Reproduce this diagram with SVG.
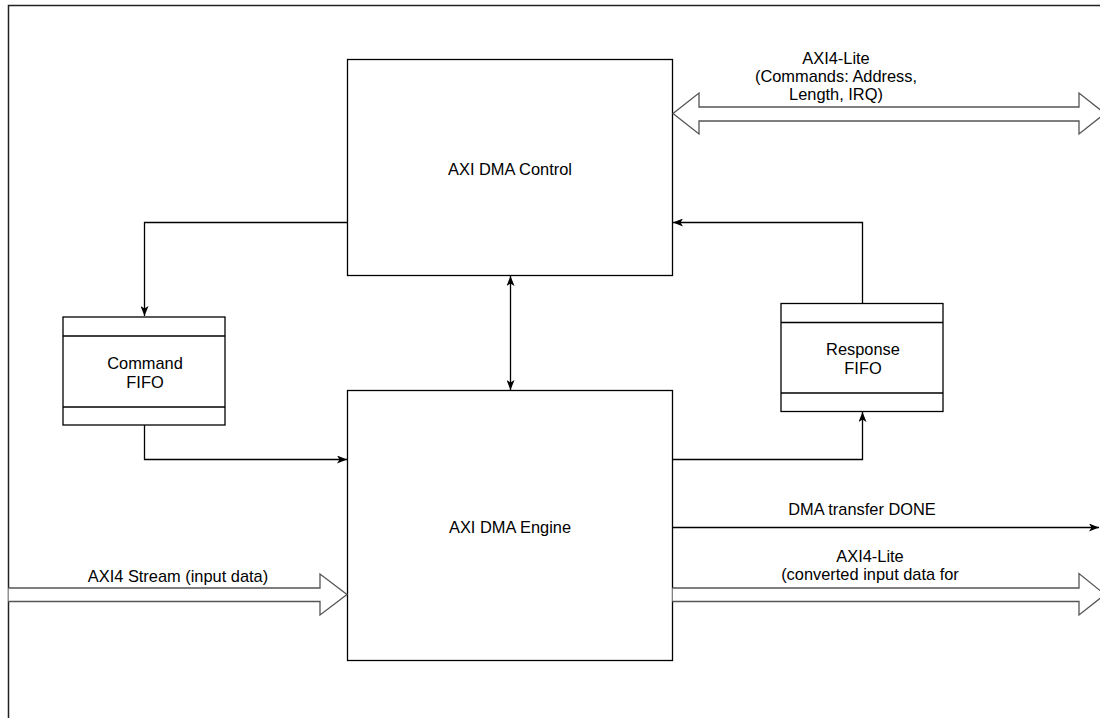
<svg xmlns="http://www.w3.org/2000/svg" width="1100" height="718" viewBox="0 0 1100 718">
<style>
.box{fill:#fff;stroke:#000;stroke-width:1.3}
.frame{fill:none;stroke:#222;stroke-width:1.5}
.ln{fill:none;stroke:#000;stroke-width:1.3}
.wide{fill:#fff;stroke:#555;stroke-width:1.3;stroke-linejoin:miter}
text{font-family:"Liberation Sans",Arial,sans-serif;font-size:16.4px;fill:#000;text-anchor:middle}
</style>
<defs>
<marker id="ah" viewBox="0 0 10 8" refX="10" refY="4" markerWidth="10" markerHeight="8" markerUnits="userSpaceOnUse" orient="auto-start-reverse">
<path d="M0,0 L10,4 L0,8 L2.5,4 Z" fill="#000"/>
</marker>
</defs>
<rect class="frame" x="8.5" y="5.5" width="1100" height="730"/>
<g id="control">
<rect class="box" x="347.5" y="59.5" width="325" height="216"/>
<text x="510" y="175">AXI DMA Control</text>
</g>
<g id="engine">
<rect class="box" x="347.5" y="390.5" width="325" height="270"/>
<text x="510" y="533">AXI DMA Engine</text>
</g>
<g id="cmdfifo">
<rect class="box" x="63" y="317" width="162" height="108"/>
<line class="ln" x1="63" y1="336" x2="225" y2="336"/>
<line class="ln" x1="63" y1="407" x2="225" y2="407"/>
<text x="145" y="369">Command</text>
<text x="145" y="388">FIFO</text>
</g>
<g id="respfifo">
<rect class="box" x="781" y="303.5" width="162" height="108"/>
<line class="ln" x1="781" y1="322.5" x2="943" y2="322.5"/>
<line class="ln" x1="781" y1="393" x2="943" y2="393"/>
<text x="863" y="355">Response</text>
<text x="863" y="374">FIFO</text>
</g>
<g id="connectors">
<path class="ln" d="M347.5,222.5 H144.5 V316" marker-end="url(#ah)"/>
<path class="ln" d="M144.5,425 V459.5 H347" marker-end="url(#ah)"/>
<path class="ln" d="M510.5,276 V390" marker-start="url(#ah)" marker-end="url(#ah)"/>
<path class="ln" d="M672.5,459.5 H862.5 V412" marker-end="url(#ah)"/>
<path class="ln" d="M862.5,303.5 V222.5 H673" marker-end="url(#ah)"/>
<path class="ln" d="M672.5,527.5 H1099" marker-end="url(#ah)"/>
<path class="wide" d="M673,113.5 L699,93 L699,107 L1079,107 L1079,93 L1105,113.5 L1079,134 L1079,121 L699,121 L699,134 Z"/>
<path class="wide" d="M672.5,588 L1079,588 L1079,573.5 L1105,594.5 L1079,615 L1079,601.5 L672.5,601.5"/>
<path class="wide" d="M8.5,588 L320,588 L320,574 L347,594.5 L320,615 L320,601.5 L8.5,601.5"/>
</g>
<g id="labels">
<text x="836" y="64">AXI4-Lite</text>
<text x="836" y="82">(Commands: Address,</text>
<text x="836" y="100">Length, IRQ)</text>
<text x="862" y="515">DMA transfer DONE</text>
<text x="870" y="562">AXI4-Lite</text>
<text x="870" y="580">(converted input data for</text>
<text x="178" y="582">AXI4 Stream (input data)</text>
</g>
</svg>
